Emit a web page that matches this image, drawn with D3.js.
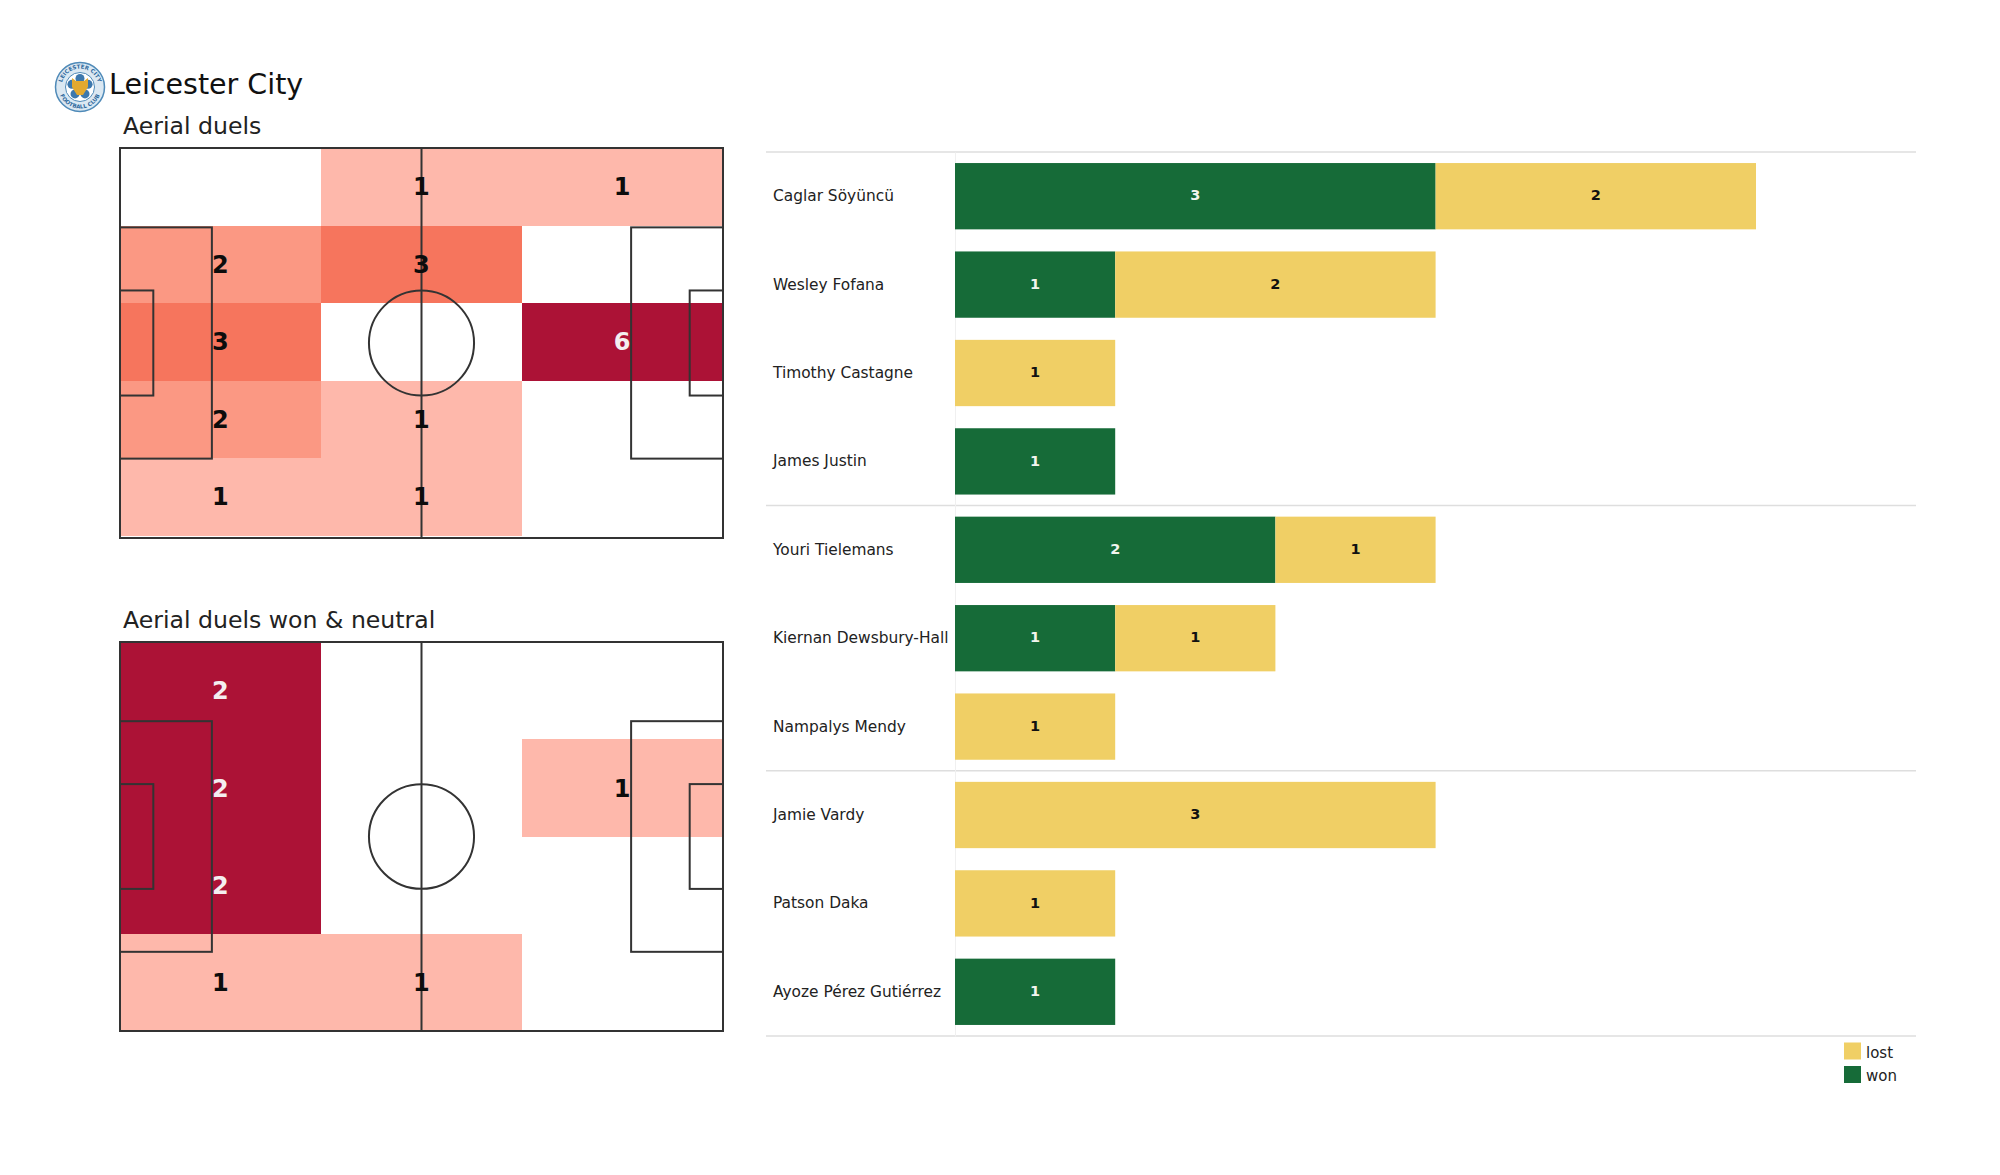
<!DOCTYPE html>
<html>
<head>
<meta charset="utf-8">
<script src="https://cdn.jsdelivr.net/npm/d3@7"></script>
<style>
  body { margin: 0; background: #fff; }
  text { font-family: "DejaVu Sans", sans-serif; }
</style>
</head>
<body>
<script>
var players = ["Caglar Söyüncü", "Wesley Fofana", "Timothy Castagne", "James Justin",
  "Youri Tielemans", "Kiernan Dewsbury-Hall", "Nampalys Mendy",
  "Jamie Vardy", "Patson Daka", "Ayoze Pérez Gutiérrez"];
var won = [3, 1, 0, 1, 2, 1, 0, 0, 0, 1];
var lost = [2, 2, 1, 0, 1, 1, 1, 3, 1, 0];
var groupStarts = [0, 4, 7];

var duels = [
  [0, 1, 1],
  [2, 3, 0],
  [3, 0, 6],
  [2, 1, 0],
  [1, 1, 0]
];
var duelsWon = [
  [2, 0, 0],
  [2, 0, 1],
  [2, 0, 0],
  [1, 1, 0]
];

var duelColors = ["#ffffff", "#feb8ab", "#fb9883", "#f6755d", "#ac1236"];
var wonColors = ["#ffffff", "#feb8ab", "#ac1236"];

var width = 2000;
var height = 1175;

var svg = d3.select("body")
  .append("svg")
  .attr("width", width)
  .attr("height", height);

// crest
var crest = svg.append("g").attr("transform", "translate(80,87)");
crest.append("circle").attr("r", 24.5).attr("fill", "#dbe8f2").attr("stroke", "#4f8ab8").attr("stroke-width", 1.5);
crest.append("circle").attr("r", 14.5).attr("fill", "#fff").attr("stroke", "#4f8ab8");
crest.append("g").selectAll("circle")
  .data(d3.range(5))
  .enter()
  .append("circle")
  .attr("cx", function(d) { return 8.5 * Math.sin(d * 2 * Math.PI / 5); })
  .attr("cy", function(d) { return -8.5 * Math.cos(d * 2 * Math.PI / 5); })
  .attr("r", 4.5)
  .attr("fill", "#3d78ad");
crest.append("path")
  .attr("d", "M-8,-9 L-4,-6 L4,-6 L8,-9 L8,0 L3,8 L-3,8 L-8,0 Z")
  .attr("fill", "#e3a92f");
var defs = crest.append("defs");
defs.append("path").attr("id", "crestTop").attr("d", "M-18.5,0 A18.5,18.5 0 0 1 18.5,0");
defs.append("path").attr("id", "crestBottom").attr("d", "M-21.5,0 A21.5,21.5 0 0 0 21.5,0");
[["#crestTop", "LEICESTER CITY"], ["#crestBottom", "FOOTBALL CLUB"]].forEach(function(t) {
  crest.append("text")
    .attr("font-size", "5.5px")
    .attr("fill", "#2f6a9e")
    .attr("font-weight", "bold")
    .attr("text-anchor", "middle")
    .append("textPath")
    .attr("href", t[0])
    .attr("startOffset", "50%")
    .text(t[1]);
});

svg.append("text").text("Leicester City")
  .attr("x", 109).attr("y", 94)
  .attr("font-size", "28.5px").attr("fill", "#111");

function drawPitch(title, grid, colors, top, bottom, cellBottom) {
  svg.append("text").text(title)
    .attr("x", 123).attr("y", top - 14)
    .attr("font-size", "23.6px").attr("fill", "#222");

  var pitchX = d3.scaleLinear().domain([0, 105]).range([120, 723]);
  var pitchY = d3.scaleLinear().domain([0, 68]).range([top, bottom]);
  var col = d3.scaleBand().domain(d3.range(grid[0].length)).range([120, 722.5]);
  var row = d3.scaleBand().domain(d3.range(grid.length)).range([top, cellBottom]);
  var levels = d3.sort(d3.union(d3.merge(grid), [0]));
  var color = d3.scaleOrdinal().domain(levels).range(colors);

  var cells = [];
  grid.forEach(function(r, i) {
    r.forEach(function(v, j) { cells.push({ row: i, col: j, value: v }); });
  });

  svg.append("g").selectAll("rect")
    .data(cells)
    .enter()
    .append("rect")
    .attr("x", function(d) { return col(d.col); })
    .attr("y", function(d) { return row(d.row); })
    .attr("width", col.bandwidth())
    .attr("height", row.bandwidth())
    .attr("shape-rendering", "crispEdges")
    .attr("fill", function(d) { return color(d.value); });

  var boxes = [
    [0, 105, 0, 68],
    [0, 16, 13.84, 54.16],
    [89, 105, 13.84, 54.16],
    [0, 5.8, 24.84, 43.16],
    [99.2, 105, 24.84, 43.16]
  ];
  var lines = svg.append("g")
    .attr("fill", "none")
    .attr("stroke", "#333")
    .attr("stroke-width", 2);
  lines.selectAll("rect")
    .data(boxes)
    .enter()
    .append("rect")
    .attr("x", function(d) { return pitchX(d[0]); })
    .attr("y", function(d) { return pitchY(d[2]); })
    .attr("width", function(d) { return pitchX(d[1]) - pitchX(d[0]); })
    .attr("height", function(d) { return pitchY(d[3]) - pitchY(d[2]); });
  lines.append("line")
    .attr("x1", pitchX(52.5)).attr("x2", pitchX(52.5))
    .attr("y1", pitchY(0)).attr("y2", pitchY(68));
  lines.append("ellipse")
    .attr("cx", pitchX(52.5))
    .attr("cy", pitchY(34))
    .attr("rx", pitchX(9.15) - pitchX(0))
    .attr("ry", pitchY(9.15) - pitchY(0));

  var maxValue = d3.max(levels);
  svg.append("g").selectAll("text")
    .data(cells.filter(function(d) { return d.value > 0; }))
    .enter()
    .append("text")
    .text(function(d) { return d.value; })
    .attr("x", function(d) { return col(d.col) + col.bandwidth() / 2; })
    .attr("y", function(d) { return row(d.row) + row.bandwidth() / 2; })
    .attr("dy", "0.36em")
    .attr("text-anchor", "middle")
    .attr("font-size", "24px")
    .attr("font-weight", "bold")
    .attr("fill", function(d) { return d.value === maxValue ? "#f4eef0" : "#0c0c0c"; });
}

drawPitch("Aerial duels", duels, duelColors, 148, 538, 535.5);
drawPitch("Aerial duels won & neutral", duelsWon, wonColors, 642, 1031, 1031);

// stacked bars
var x = d3.scaleLinear().domain([0, 5]).range([955, 1756]);
var y = d3.scaleBand()
  .domain(players)
  .range([152, 1036])
  .paddingInner(0.25)
  .paddingOuter(0.125);

var separators = groupStarts.map(function(i) { return y(players[i]) - y.step() * 0.125; })
  .concat([y(players[9]) + y.bandwidth() + y.step() * 0.125]);

svg.append("g").selectAll("line")
  .data(separators)
  .enter()
  .append("line")
  .attr("x1", 766).attr("x2", 1916)
  .attr("y1", function(d) { return d; })
  .attr("y2", function(d) { return d; })
  .attr("stroke", "#dedede")
  .attr("stroke-width", 1.5);

var yAxis = svg.append("g")
  .attr("transform", "translate(955,0)")
  .call(d3.axisLeft(y).tickSize(0));
yAxis.select(".domain").attr("stroke", "#f0f0f0");
yAxis.selectAll("text")
  .attr("x", -182)
  .attr("text-anchor", "start")
  .attr("font-size", "15.4px")
  .attr("font-family", "'DejaVu Sans', sans-serif")
  .attr("fill", "#222");

var segments = [];
players.forEach(function(p, i) {
  if (won[i] > 0) segments.push({ player: p, start: 0, value: won[i], kind: "won" });
  if (lost[i] > 0) segments.push({ player: p, start: won[i], value: lost[i], kind: "lost" });
});

var barColor = d3.scaleOrdinal().domain(["lost", "won"]).range(["#f0cf65", "#166b38"]);

svg.append("g").selectAll("rect")
  .data(segments)
  .enter()
  .append("rect")
  .attr("x", function(d) { return x(d.start); })
  .attr("y", function(d) { return y(d.player); })
  .attr("width", function(d) { return x(d.start + d.value) - x(d.start); })
  .attr("height", y.bandwidth())
  .attr("fill", function(d) { return barColor(d.kind); });

svg.append("g").selectAll("text")
  .data(segments)
  .enter()
  .append("text")
  .text(function(d) { return d.value; })
  .attr("x", function(d) { return x(d.start + d.value / 2); })
  .attr("y", function(d) { return y(d.player) + y.bandwidth() / 2 - 1; })
  .attr("dy", "0.36em")
  .attr("text-anchor", "middle")
  .attr("font-size", "14.5px")
  .attr("font-weight", "bold")
  .attr("fill", function(d) { return d.kind === "won" ? "#f2f5ee" : "#111"; });

// legend
var legend = svg.append("g").selectAll("g")
  .data(barColor.domain())
  .enter()
  .append("g")
  .attr("transform", function(d, i) { return "translate(1844," + (1042.5 + i * 23.5) + ")"; });
legend.append("rect")
  .attr("width", 17).attr("height", 17)
  .attr("fill", function(d) { return barColor(d); });
legend.append("text")
  .text(function(d) { return d; })
  .attr("x", 22).attr("y", 15)
  .attr("font-size", "15px")
  .attr("fill", "#222");
</script>
</body>
</html>
